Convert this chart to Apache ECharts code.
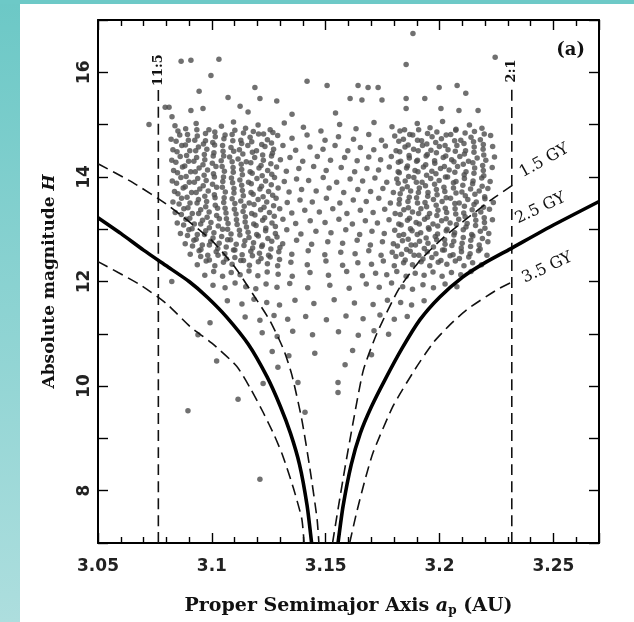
<!DOCTYPE html>
<html><head><meta charset="utf-8">
<script src="https://cdn.jsdelivr.net/npm/echarts@6/dist/echarts.min.js"></script>
<style>html,body{margin:0;padding:0;background:#fff;}#c{width:634px;height:622px;}</style>
</head><body><div id="c"></div><script>
// ---- data ----
const xTicks = [3.05, 3.1, 3.15, 3.2, 3.25];
const yTicks = [8, 10, 12, 14, 16];

const cloudTop = [
[3.0865,16.21],[3.0908,16.23],[3.1031,16.25],[3.0996,15.94],[3.1189,15.71],[3.1211,15.50],[3.1071,15.52],[3.0944,15.64],[3.0908,15.27],[3.0961,15.31],[3.1124,15.35],[3.1159,15.24],[3.1418,15.83],[3.1506,15.75],[3.1642,15.75],[3.1686,15.71],[3.1730,15.71],[3.1853,16.15],[3.1853,15.50],[3.1853,15.31],[3.1998,15.71],[3.2077,15.75],[3.2006,15.31],[3.2085,15.27],[3.2169,15.27],[3.2244,16.29],[3.1607,15.50],[3.1659,15.47],[3.1747,15.47],[3.1883,16.74],[3.0724,15.0],[3.0795,15.33],[3.0812,15.33],[3.0825,15.15],
[3.1285,15.45],[3.1352,15.2],[3.1543,15.22],[3.1935,15.5],[3.2115,15.6]
];

const cloudCore = [
[3.0838,14.98],[3.0885,14.92],[3.0931,15.02],[3.0987,14.9],[3.1042,14.97],[3.1095,15.05],[3.1148,14.93],[3.1203,14.99],[3.1256,14.9],[3.1318,15.03],[3.1402,14.95],[3.1479,14.88],[3.1561,15.0],[3.1633,14.92],[3.1712,15.04],[3.1791,14.96],[3.1846,14.9],[3.1902,15.02],[3.1958,14.94],[3.2013,15.06],[3.2072,14.91],[3.2131,14.99],[3.2186,14.93],
[3.0821,14.72],[3.0859,14.8],[3.0897,14.7],[3.0936,14.78],[3.0972,14.69],[3.1015,14.77],[3.1053,14.73],[3.1089,14.81],[3.1127,14.7],[3.1168,14.76],[3.1205,14.82],[3.1244,14.71],[3.1289,14.79],[3.1352,14.74],[3.1418,14.8],[3.1497,14.7],[3.1556,14.77],[3.1622,14.72],[3.1689,14.81],[3.1745,14.7],[3.1803,14.78],[3.1841,14.72],[3.1882,14.8],[3.1921,14.69],[3.1967,14.77],[3.2008,14.73],[3.2049,14.81],[3.2093,14.7],[3.2138,14.76],[3.2179,14.71],[3.2224,14.79],
[3.0829,14.52],[3.0868,14.6],[3.0903,14.5],[3.0941,14.57],[3.0978,14.53],[3.1012,14.61],[3.1049,14.49],[3.1084,14.56],[3.1121,14.52],[3.1158,14.6],[3.1196,14.5],[3.1233,14.58],[3.1271,14.53],[3.1312,14.6],[3.1368,14.51],[3.1431,14.57],[3.1488,14.53],[3.1541,14.6],[3.1597,14.5],[3.1652,14.56],[3.1711,14.52],[3.1762,14.59],[3.1809,14.5],[3.1848,14.57],[3.1886,14.53],[3.1925,14.6],[3.1962,14.51],[3.1999,14.58],[3.2037,14.52],[3.2076,14.6],[3.2114,14.5],[3.2152,14.57],[3.2191,14.53],[3.2233,14.58],
[3.0824,14.32],[3.0861,14.39],[3.0898,14.3],[3.0933,14.37],[3.0969,14.33],[3.1006,14.4],[3.1041,14.31],[3.1078,14.38],[3.1115,14.34],[3.1151,14.29],[3.1188,14.37],[3.1226,14.32],[3.1262,14.4],[3.1301,14.33],[3.1343,14.37],[3.1399,14.3],[3.1463,14.39],[3.1521,14.32],[3.1583,14.37],[3.1638,14.31],[3.1689,14.38],[3.1741,14.33],[3.1788,14.39],[3.1829,14.3],[3.1867,14.36],[3.1903,14.32],[3.1941,14.4],[3.1978,14.31],[3.2016,14.37],[3.2053,14.33],[3.2089,14.39],[3.2127,14.3],[3.2165,14.36],[3.2203,14.32],[3.2241,14.38],
[3.0832,14.12],[3.0871,14.19],[3.0907,14.1],[3.0944,14.17],[3.0981,14.13],[3.1018,14.2],[3.1055,14.11],[3.1093,14.18],[3.1131,14.14],[3.1168,14.1],[3.1207,14.17],[3.1245,14.12],[3.1284,14.19],[3.1327,14.11],[3.1382,14.16],[3.1447,14.2],[3.1502,14.12],[3.1568,14.18],[3.1627,14.1],[3.1681,14.16],[3.1732,14.13],[3.1779,14.19],[3.1818,14.1],[3.1855,14.17],[3.1892,14.12],[3.1929,14.19],[3.1966,14.11],[3.2004,14.16],[3.2042,14.13],[3.2079,14.2],[3.2116,14.1],[3.2154,14.17],[3.2192,14.12],[3.2231,14.18],
[3.0826,13.92],[3.0864,13.99],[3.0901,13.9],[3.0938,13.97],[3.0975,13.93],[3.1011,14.0],[3.1048,13.91],[3.1086,13.98],[3.1123,13.94],[3.1161,13.9],[3.1198,13.97],[3.1236,13.92],[3.1275,13.99],[3.1318,13.91],[3.1372,13.96],[3.1425,13.93],[3.1489,13.99],[3.1548,13.9],[3.1607,13.96],[3.1662,13.92],[3.1716,13.98],[3.1768,13.9],[3.1812,13.96],[3.1849,13.92],[3.1887,13.99],[3.1923,13.9],[3.1961,13.97],[3.1998,13.93],[3.2035,14.0],[3.2072,13.91],[3.2109,13.97],[3.2147,13.92],[3.2185,13.98],[3.2222,13.91],
[3.0836,13.72],[3.0874,13.79],[3.0911,13.7],[3.0947,13.77],[3.0984,13.73],[3.1021,13.8],[3.1059,13.71],[3.1097,13.78],[3.1134,13.74],[3.1172,13.7],[3.1211,13.77],[3.1249,13.72],[3.1291,13.79],[3.1339,13.71],[3.1394,13.76],[3.1458,13.73],[3.1515,13.79],[3.1579,13.7],[3.1641,13.76],[3.1697,13.72],[3.1751,13.78],[3.1797,13.7],[3.1836,13.77],[3.1873,13.73],[3.1911,13.79],[3.1949,13.7],[3.1986,13.76],[3.2023,13.72],[3.2061,13.79],[3.2098,13.71],[3.2136,13.77],[3.2174,13.73],[3.2212,13.78],
[3.0829,13.52],[3.0867,13.59],[3.0904,13.5],[3.0941,13.57],[3.0977,13.53],[3.1014,13.6],[3.1052,13.51],[3.1089,13.58],[3.1127,13.54],[3.1164,13.5],[3.1203,13.57],[3.1241,13.52],[3.1282,13.59],[3.1331,13.51],[3.1387,13.56],[3.1441,13.52],[3.1503,13.59],[3.1562,13.5],[3.1621,13.56],[3.1678,13.53],[3.1733,13.59],[3.1784,13.5],[3.1824,13.57],[3.1861,13.53],[3.1899,13.6],[3.1936,13.51],[3.1973,13.57],[3.2011,13.53],[3.2048,13.59],[3.2086,13.5],[3.2124,13.57],[3.2161,13.52],[3.2199,13.58],[3.2236,13.51],
[3.0839,13.32],[3.0877,13.39],[3.0914,13.3],[3.0951,13.37],[3.0988,13.33],[3.1025,13.4],[3.1062,13.31],[3.1099,13.38],[3.1137,13.34],[3.1175,13.3],[3.1214,13.37],[3.1253,13.32],[3.1298,13.39],[3.1351,13.31],[3.1408,13.36],[3.1472,13.33],[3.1531,13.39],[3.1593,13.3],[3.1652,13.36],[3.1708,13.32],[3.1759,13.38],[3.1805,13.3],[3.1843,13.37],[3.1881,13.33],[3.1918,13.39],[3.1956,13.3],[3.1993,13.36],[3.2031,13.32],[3.2068,13.39],[3.2106,13.31],[3.2143,13.37],[3.2181,13.33],[3.2219,13.38],
[3.0848,13.12],[3.0886,13.19],[3.0923,13.1],[3.0959,13.17],[3.0996,13.13],[3.1033,13.2],[3.1071,13.11],[3.1108,13.18],[3.1146,13.14],[3.1184,13.1],[3.1223,13.17],[3.1264,13.12],[3.1312,13.19],[3.1368,13.11],[3.1432,13.16],[3.1497,13.13],[3.1558,13.19],[3.1617,13.1],[3.1674,13.16],[3.1727,13.12],[3.1778,13.18],[3.1821,13.1],[3.1859,13.17],[3.1897,13.13],[3.1934,13.19],[3.1971,13.1],[3.2009,13.16],[3.2046,13.12],[3.2084,13.19],[3.2121,13.11],[3.2159,13.17],[3.2197,13.13],[3.2232,13.18],
[3.0862,12.92],[3.0899,12.99],[3.0936,12.9],[3.0973,12.97],[3.1009,12.93],[3.1047,13.0],[3.1084,12.91],[3.1121,12.98],[3.1159,12.94],[3.1197,12.9],[3.1236,12.97],[3.1279,12.92],[3.1329,12.99],[3.1391,12.91],[3.1457,12.96],[3.1523,12.93],[3.1588,12.99],[3.1649,12.9],[3.1703,12.96],[3.1757,12.92],[3.1803,12.98],[3.1842,12.9],[3.1879,12.97],[3.1917,12.93],[3.1954,13.0],[3.1991,12.91],[3.2029,12.97],[3.2066,12.93],[3.2104,12.99],[3.2141,12.9],[3.2179,12.96],[3.2216,12.92],
[3.0883,12.72],[3.0921,12.79],[3.0958,12.7],[3.0995,12.77],[3.1032,12.73],[3.1069,12.8],[3.1107,12.71],[3.1145,12.78],[3.1183,12.74],[3.1222,12.7],[3.1263,12.77],[3.1311,12.72],[3.1372,12.79],[3.1438,12.71],[3.1509,12.76],[3.1574,12.73],[3.1638,12.79],[3.1696,12.7],[3.1749,12.76],[3.1797,12.72],[3.1837,12.78],[3.1875,12.7],[3.1912,12.77],[3.1949,12.73],[3.1987,12.8],[3.2024,12.71],[3.2062,12.77],[3.2099,12.73],[3.2137,12.79],[3.2174,12.7],[3.2212,12.76],
[3.0905,12.52],[3.0944,12.59],[3.0982,12.5],[3.1019,12.57],[3.1057,12.53],[3.1095,12.6],[3.1133,12.51],[3.1171,12.58],[3.1209,12.54],[3.1249,12.5],[3.1294,12.57],[3.1351,12.52],[3.1423,12.59],[3.1496,12.51],[3.1566,12.56],[3.1629,12.53],[3.1689,12.59],[3.1743,12.5],[3.1792,12.56],[3.1833,12.52],[3.1871,12.58],[3.1909,12.5],[3.1946,12.57],[3.1984,12.53],[3.2021,12.6],[3.2059,12.51],[3.2096,12.57],[3.2134,12.53],[3.2171,12.59],[3.2208,12.5],
[3.0936,12.32],[3.0975,12.39],[3.1013,12.3],[3.1051,12.37],[3.1089,12.33],[3.1127,12.4],[3.1165,12.31],[3.1204,12.38],[3.1244,12.34],[3.1289,12.3],[3.1347,12.37],[3.1419,12.32],[3.1501,12.39],[3.1574,12.31],[3.1641,12.36],[3.1701,12.33],[3.1753,12.39],[3.1801,12.3],[3.1842,12.36],[3.1881,12.32],[3.1919,12.38],[3.1957,12.3],[3.1994,12.37],[3.2032,12.33],[3.2069,12.39],[3.2107,12.3],[3.2145,12.36],[3.2184,12.32],
[3.0969,12.12],[3.1008,12.19],[3.1047,12.1],[3.1085,12.17],[3.1124,12.13],[3.1163,12.2],[3.1202,12.11],[3.1243,12.18],[3.1291,12.14],[3.1353,12.1],[3.1431,12.17],[3.1512,12.12],[3.1592,12.19],[3.1661,12.11],[3.1719,12.16],[3.1768,12.13],[3.1812,12.19],[3.1853,12.1],[3.1893,12.16],[3.1932,12.12],[3.1971,12.18],[3.2011,12.1],[3.2052,12.17],[3.2093,12.13],[3.2138,12.19],
[3.1005,11.93],[3.1058,11.88],[3.1102,11.97],[3.1149,11.9],[3.1193,11.86],[3.1238,11.95],[3.1286,11.89],[3.1342,11.96],[3.1421,11.88],[3.1518,11.93],[3.1603,11.87],[3.1678,11.95],[3.1735,11.89],[3.1789,11.97],[3.1838,11.9],[3.1881,11.85],[3.1927,11.94],[3.1973,11.88],[3.2024,11.95],[3.2076,11.9],
[3.1068,11.63],[3.1132,11.57],[3.1185,11.66],[3.1241,11.6],[3.1297,11.55],[3.1365,11.64],[3.1448,11.58],[3.1537,11.65],[3.1626,11.59],[3.1708,11.56],[3.1771,11.64],[3.1829,11.6],[3.1877,11.55],[3.1932,11.63],
[3.1146,11.32],[3.1211,11.26],[3.1273,11.35],[3.1333,11.28],[3.1412,11.33],[3.1503,11.27],[3.1589,11.34],[3.1664,11.29],[3.1738,11.36],[3.1801,11.28],[3.1858,11.33],
[3.1221,11.02],[3.1287,10.95],[3.1355,11.05],[3.1442,10.98],[3.1556,11.04],[3.1643,10.97],[3.1712,11.06],[3.1776,10.99],
[3.1265,10.66],[3.1338,10.58],[3.1452,10.63],[3.1585,10.41],[3.1618,10.68],[3.1701,10.6]
];

// extra points filling the two dense lobes
const cloudLobes = [
[3.0851,14.88],[3.0893,14.81],[3.0934,14.9],[3.0972,14.83],[3.1013,14.86],[3.1058,14.8],[3.1101,14.89],[3.1139,14.84],[3.1182,14.87],[3.1227,14.82],[3.1268,14.85],[3.1826,14.88],[3.1869,14.81],[3.1908,14.9],[3.1947,14.83],[3.1988,14.86],[3.2029,14.8],[3.2071,14.89],[3.2112,14.84],[3.2153,14.87],[3.2196,14.82],
[3.0843,14.68],[3.0884,14.61],[3.0925,14.7],[3.0963,14.63],[3.1004,14.66],[3.1047,14.6],[3.1092,14.69],[3.1131,14.64],[3.1175,14.67],[3.1219,14.62],[3.1262,14.65],[3.1821,14.68],[3.1862,14.61],[3.1903,14.7],[3.1944,14.63],[3.1983,14.66],[3.2024,14.6],[3.2066,14.69],[3.2107,14.64],[3.2149,14.67],[3.2192,14.62],
[3.0847,14.48],[3.0889,14.41],[3.0929,14.5],[3.0967,14.43],[3.1009,14.46],[3.1052,14.4],[3.1096,14.49],[3.1136,14.44],[3.1178,14.47],[3.1223,14.42],[3.1266,14.45],[3.1825,14.48],[3.1866,14.41],[3.1906,14.5],[3.1946,14.43],[3.1986,14.46],[3.2027,14.4],[3.2069,14.49],[3.2109,14.44],[3.2151,14.47],[3.2194,14.42],
[3.0842,14.28],[3.0881,14.21],[3.0921,14.3],[3.0961,14.23],[3.1002,14.26],[3.1045,14.2],[3.1089,14.29],[3.1129,14.24],[3.1171,14.27],[3.1216,14.22],[3.1259,14.25],[3.1819,14.28],[3.1859,14.21],[3.1899,14.3],[3.1939,14.23],[3.1979,14.26],[3.2021,14.2],[3.2063,14.29],[3.2104,14.24],[3.2146,14.27],[3.2189,14.22],
[3.0849,14.08],[3.0887,14.01],[3.0927,14.1],[3.0966,14.03],[3.1007,14.06],[3.1051,14.0],[3.1094,14.09],[3.1134,14.04],[3.1177,14.07],[3.1221,14.02],[3.1263,14.05],[3.1823,14.08],[3.1864,14.01],[3.1905,14.1],[3.1943,14.03],[3.1984,14.06],[3.2026,14.0],[3.2067,14.09],[3.2108,14.04],[3.2151,14.07],[3.2194,14.02],
[3.0845,13.88],[3.0883,13.81],[3.0923,13.9],[3.0962,13.83],[3.1003,13.86],[3.1046,13.8],[3.1091,13.89],[3.1131,13.84],[3.1173,13.87],[3.1218,13.82],[3.1261,13.85],[3.1818,13.88],[3.1858,13.81],[3.1898,13.9],[3.1938,13.83],[3.1978,13.86],[3.2019,13.8],[3.2061,13.89],[3.2102,13.84],[3.2145,13.87],[3.2187,13.82],
[3.0851,13.68],[3.0891,13.61],[3.0931,13.7],[3.0969,13.63],[3.1011,13.66],[3.1054,13.6],[3.1097,13.69],[3.1138,13.64],[3.1181,13.67],[3.1225,13.62],[3.1267,13.65],[3.1827,13.68],[3.1867,13.61],[3.1907,13.7],[3.1948,13.63],[3.1989,13.66],[3.2029,13.6],[3.2072,13.69],[3.2113,13.64],[3.2155,13.67],[3.2198,13.62],
[3.0856,13.48],[3.0895,13.41],[3.0935,13.5],[3.0973,13.43],[3.1015,13.46],[3.1058,13.4],[3.1101,13.49],[3.1142,13.44],[3.1185,13.47],[3.1229,13.42],[3.1271,13.45],[3.1822,13.48],[3.1863,13.41],[3.1903,13.5],[3.1943,13.43],[3.1985,13.46],[3.2025,13.4],[3.2067,13.49],[3.2109,13.44],[3.2151,13.47],[3.2193,13.42],
[3.0866,13.28],[3.0903,13.21],[3.0942,13.3],[3.0979,13.23],[3.1021,13.26],[3.1064,13.2],[3.1106,13.29],[3.1147,13.24],[3.1189,13.27],[3.1232,13.22],[3.1274,13.25],[3.1827,13.28],[3.1868,13.21],[3.1908,13.3],[3.1947,13.23],[3.1988,13.26],[3.2029,13.2],[3.2071,13.29],[3.2112,13.24],[3.2154,13.27],[3.2196,13.22],
[3.0876,13.08],[3.0913,13.01],[3.0951,13.1],[3.0989,13.03],[3.1028,13.06],[3.1069,13.0],[3.1111,13.09],[3.1152,13.04],[3.1194,13.07],[3.1237,13.02],[3.1279,13.05],[3.1831,13.08],[3.1872,13.01],[3.1911,13.1],[3.1951,13.03],[3.1992,13.06],[3.2033,13.0],[3.2074,13.09],[3.2116,13.04],[3.2158,13.07],[3.2199,13.02],
[3.0893,12.88],[3.0931,12.81],[3.0968,12.9],[3.1005,12.83],[3.1043,12.86],[3.1082,12.8],[3.1123,12.89],[3.1163,12.84],[3.1204,12.87],[3.1246,12.82],[3.1286,12.85],[3.1822,12.88],[3.1862,12.81],[3.1902,12.9],[3.1941,12.83],[3.1981,12.86],[3.2022,12.8],[3.2063,12.89],[3.2104,12.84],[3.2146,12.87],[3.2188,12.82],
[3.0915,12.68],[3.0952,12.61],[3.0989,12.7],[3.1026,12.63],[3.1063,12.66],[3.1101,12.6],[3.1141,12.69],[3.1179,12.64],[3.1219,12.67],[3.1259,12.62],[3.1299,12.65],[3.1815,12.68],[3.1855,12.61],[3.1894,12.7],[3.1933,12.63],[3.1973,12.66],[3.2013,12.6],[3.2054,12.69],[3.2095,12.64],[3.2136,12.67],[3.2178,12.62],
[3.0951,12.48],[3.0989,12.41],[3.1027,12.5],[3.1064,12.43],[3.1101,12.46],[3.1139,12.4],[3.1178,12.49],[3.1216,12.44],[3.1256,12.47],[3.1297,12.42],[3.1808,12.48],[3.1849,12.41],[3.1888,12.5],[3.1927,12.43],[3.1966,12.46],[3.2006,12.4],[3.2046,12.49],[3.2087,12.44],[3.2128,12.47]
];

const cloudLow = [
[3.1115,9.75],[3.1225,10.05],[3.1290,10.36],[3.1378,10.07],[3.1409,9.5],[3.1554,10.07],[3.1554,9.88],
[3.0895,9.53],[3.1211,8.22],[3.1021,10.48],[3.0939,10.98],[3.0992,11.21],[3.0824,12.0]
];

// Yarkovsky V-curves (2.5 Gy solid; 1.5 Gy and 3.5 Gy dashed)
const gy25Left  = [[3.05,13.22],[3.06,12.92],[3.07,12.6],[3.08,12.3],[3.09,12.0],[3.098,11.7],[3.1065,11.32],[3.116,10.8],[3.1242,10.18],[3.13,9.62],[3.1345,9.1],[3.1385,8.5],[3.1418,7.72],[3.1438,7.0]];
const gy25Right = [[3.1554,7.0],[3.1576,7.7],[3.1612,8.5],[3.1652,9.1],[3.17,9.6],[3.176,10.12],[3.1835,10.72],[3.1914,11.27],[3.2,11.7],[3.21,12.08],[3.22,12.36],[3.2309,12.62],[3.25,13.08],[3.27,13.53]];
const gy15Left  = [[3.05,14.25],[3.065,13.9],[3.0816,13.43],[3.1,12.78],[3.11,12.28],[3.1168,11.84],[3.1255,11.25],[3.1315,10.7],[3.1351,10.22],[3.1395,9.36],[3.1431,8.41],[3.1462,7.46],[3.147,7.0]];
const gy15Right = [[3.153,7.0],[3.1556,7.7],[3.1585,8.45],[3.162,9.3],[3.1665,10.3],[3.1724,11.0],[3.182,11.85],[3.1914,12.4],[3.2019,12.85],[3.2119,13.2],[3.2223,13.55],[3.2323,13.85]];
const gy35Left  = [[3.05,12.38],[3.0684,11.94],[3.08,11.58],[3.0904,11.14],[3.1,10.82],[3.1109,10.38],[3.117,9.95],[3.1225,9.5],[3.1275,9.05],[3.1312,8.66],[3.1358,8.05],[3.1395,7.46],[3.1405,7.0]];
const gy35Right = [[3.1605,7.0],[3.1636,7.59],[3.1672,8.2],[3.1708,8.73],[3.1796,9.62],[3.1892,10.32],[3.1972,10.83],[3.2045,11.17],[3.2119,11.46],[3.2251,11.84],[3.2323,12.0]];

// mean-motion resonances
const res115 = [[3.0765,7],[3.0765,15.66]];
const res21  = [[3.2317,7],[3.2317,15.73]];

// ---- chart ----
const serif = 'DejaVu Serif';
const sans = 'DejaVu Sans';
const chart = echarts.init(document.getElementById('c'), null, {renderer:'canvas'});

function withLabel(arr, idx, lab) {
  return arr.map((p, i) => i === idx ? {value: p, label: Object.assign({show: true}, lab)} : p);
}
const curveLabel = (text, rot, off) => ({
  formatter: text, position: 'right', distance: 0, rotate: rot, offset: off,
  align: 'left', verticalAlign: 'middle',
  fontFamily: serif, fontSize: 16, color: '#111'
});
const resLabel = text => ({
  formatter: text, position: 'top', distance: 4, rotate: 90,
  align: 'left', verticalAlign: 'middle',
  fontFamily: serif, fontSize: 13, fontWeight: 'bold', color: '#111'
});

const dashed = {color: '#111', width: 1.6, type: [11, 6]};
function lineSeries(data, style, z) {
  return {type: 'line', data, smooth: 0.2, symbol: 'circle', symbolSize: 0.01, showSymbol: true,
    lineStyle: style, itemStyle: {color: 'transparent'}, z: z, silent: true, clip: true};
}

const axisLine = {show: true, onZero: false, lineStyle: {color: '#000', width: 2}};
const tickStyle = {color: '#000', width: 1.4};

chart.setOption({
  animation: false,
  backgroundColor: '#ffffff',
  graphic: [
    {type: 'rect', left: 0, top: 0, shape: {width: 20, height: 622}, style: {fill: new echarts.graphic.LinearGradient(0,0,0,1,[{offset:0,color:'#6cc8c6'},{offset:1,color:'#addede'}])}, z: -1},
    {type: 'rect', left: 0, top: 0, shape: {width: 634, height: 4}, style: {fill: '#6dc9c7'}, z: -1}
  ],
  title: {text: '(a)', right: 44, top: 36, textStyle: {fontFamily: serif, fontWeight: 'bold', fontSize: 18, color: '#111'}},
  grid: {left: 98, right: 35, top: 20, bottom: 78},
  xAxis: [
    {type: 'value', position: 'bottom', min: 3.05, max: 3.27, interval: 0.05,
     axisLine, axisTick: {inside: true, length: 10, lineStyle: tickStyle},
     minorTick: {show: true, splitNumber: 5, length: 6, lineStyle: tickStyle},
     splitLine: {show: false}, minorSplitLine: {show: false},
     axisLabel: {showMaxLabel: false, margin: 15, fontFamily: sans, fontWeight: 'bold', fontSize: 17, color: '#222'},
     name: '{n|Proper Semimajor Axis }{i|a}{s|p}{n| (AU)}', nameLocation: 'middle', nameGap: 52,
     nameTextStyle: {rich: {
       n: {fontFamily: serif, fontWeight: 'bold', fontSize: 19, color: '#111'},
       i: {fontFamily: serif, fontWeight: 'bold', fontStyle: 'italic', fontSize: 19, color: '#111'},
       s: {fontFamily: serif, fontWeight: 'bold', fontSize: 12, color: '#111', padding: [10, 0, 0, 0]}
     }}},
    {type: 'value', position: 'top', min: 3.05, max: 3.27, interval: 0.05,
     axisLine, axisTick: {inside: true, length: 10, lineStyle: tickStyle},
     minorTick: {show: true, splitNumber: 5, length: 6, lineStyle: tickStyle},
     splitLine: {show: false}, minorSplitLine: {show: false}, axisLabel: {show: false}}
  ],
  yAxis: [
    {type: 'value', position: 'left', min: 7, max: 17, interval: 1,
     axisLine, axisTick: {inside: true, length: 10, lineStyle: tickStyle},
     splitLine: {show: false},
     axisLabel: {rotate: 90, margin: 5, fontFamily: sans, fontWeight: 'bold', fontSize: 17, color: '#222',
       formatter: v => yTicks.indexOf(v) >= 0 ? String(v) : ''},
     name: '{n|Absolute magnitude }{i|H}', nameLocation: 'middle', nameGap: 40, nameRotate: 90,
     nameTextStyle: {rich: {
       n: {fontFamily: serif, fontWeight: 'bold', fontSize: 17, color: '#111'},
       i: {fontFamily: serif, fontWeight: 'bold', fontStyle: 'italic', fontSize: 17, color: '#111'}
     }}},
    {type: 'value', position: 'right', min: 7, max: 17, interval: 1,
     axisLine, axisTick: {inside: true, length: 10, lineStyle: tickStyle},
     splitLine: {show: false}, axisLabel: {show: false}}
  ],
  series: [
    {type: 'scatter', data: cloudTop.concat(cloudCore, cloudLobes, cloudLow), symbolSize: 5.5, itemStyle: {color: '#4c4c4c'}, z: 2, silent: true},
    lineSeries(withLabel(res115, 1, resLabel('11:5')), dashed, 3),
    lineSeries(withLabel(res21, 1, resLabel('2:1')), dashed, 3),
    lineSeries(gy15Left, dashed, 4),
    lineSeries(withLabel(gy15Right, gy15Right.length - 1, curveLabel('1.5 GY', 29, [12, -6])), dashed, 4),
    lineSeries(gy35Left, dashed, 4),
    lineSeries(withLabel(gy35Right, gy35Right.length - 1, curveLabel('3.5 GY', 25, [10, 2])), dashed, 4),
    lineSeries(gy25Left, {color: '#000', width: 3.6}, 5),
    lineSeries(withLabel(gy25Right, 11, curveLabel('2.5 GY', 25, [18, -24])), {color: '#000', width: 3.6}, 5)
  ]
});
</script></body></html>
